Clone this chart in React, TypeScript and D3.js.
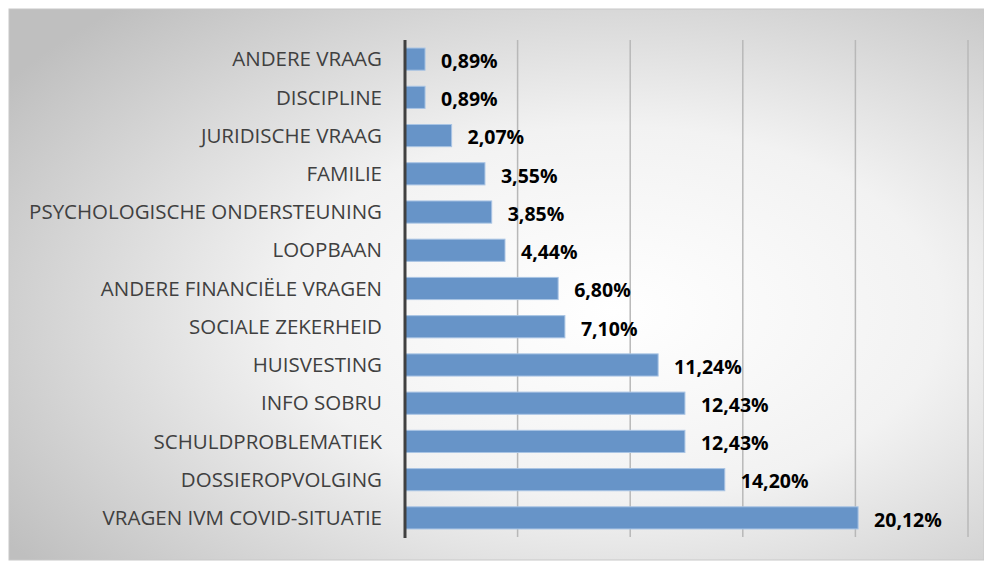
import * as d3 from "d3";

const categories = [
  "ANDERE VRAAG",
  "DISCIPLINE",
  "JURIDISCHE VRAAG",
  "FAMILIE",
  "PSYCHOLOGISCHE ONDERSTEUNING",
  "LOOPBAAN",
  "ANDERE FINANCIËLE VRAGEN",
  "SOCIALE ZEKERHEID",
  "HUISVESTING",
  "INFO SOBRU",
  "SCHULDPROBLEMATIEK",
  "DOSSIEROPVOLGING",
  "VRAGEN IVM COVID-SITUATIE",
];
const values = [0.89, 0.89, 2.07, 3.55, 3.85, 4.44, 6.8, 7.1, 11.24, 12.43, 12.43, 14.2, 20.12];
const gridTicks = [0, 5, 10, 15, 20, 25];

export default function App() {
  const width = 984;
  const height = 561;
  const x = d3.scaleLinear().domain([0, 25]).range([405, 968]);
  const y = d3.scaleBand().domain(categories).range([40, 537]).paddingInner(0.42).paddingOuter(0.21);
  const fmt = (v: number) => v.toFixed(2).replace(".", ",") + "%";

  return (
    <svg
      width={width}
      height={height}
      style={{ position: "absolute", left: 0, top: 0 }}
      fontFamily="'Open Sans', 'Noto Sans', sans-serif"
    >
      <defs>
        <radialGradient id="bg" cx="62%" cy="55%" r="75%">
          <stop offset="0%" stopColor="#ffffff" />
          <stop offset="45%" stopColor="#f2f2f2" />
          <stop offset="100%" stopColor="#bfbfbf" />
        </radialGradient>
      </defs>
      <rect x={0} y={0} width={width} height={height} fill="#ffffff" />
      <rect x={9} y={9} width={975} height={551} fill="url(#bg)" stroke="#c8c8c8" strokeWidth={1} />

      {gridTicks.slice(1).map((t) => (
        <line key={t} x1={x(t)} x2={x(t)} y1={40} y2={537} stroke="#b8b8b8" strokeWidth={1.5} />
      ))}

      {categories.map((c, i) => {
        const by = y(c) ?? 0;
        const bh = y.bandwidth();
        return (
          <g key={c}>
            <rect
              x={x(0)}
              y={by}
              width={x(values[i]) - x(0)}
              height={bh}
              fill="#6794c8"
              stroke="#a9c4e4"
              strokeWidth={1}
            />
            <text
              x={382}
              y={by + bh / 2}
              dy="0.35em"
              textAnchor="end"
              fontSize={20.5}
              fill="#404040"
            >
              {c}
            </text>
            <text
              x={x(values[i]) + 16}
              y={by + bh / 2 + 2}
              dy="0.35em"
              fontSize={19.5}
              fontWeight="bold"
              fill="#000000"
            >
              {fmt(values[i])}
            </text>
          </g>
        );
      })}

      <line x1={x(0)} x2={x(0)} y1={40} y2={538} stroke="#404040" strokeWidth={3} />
    </svg>
  );
}
